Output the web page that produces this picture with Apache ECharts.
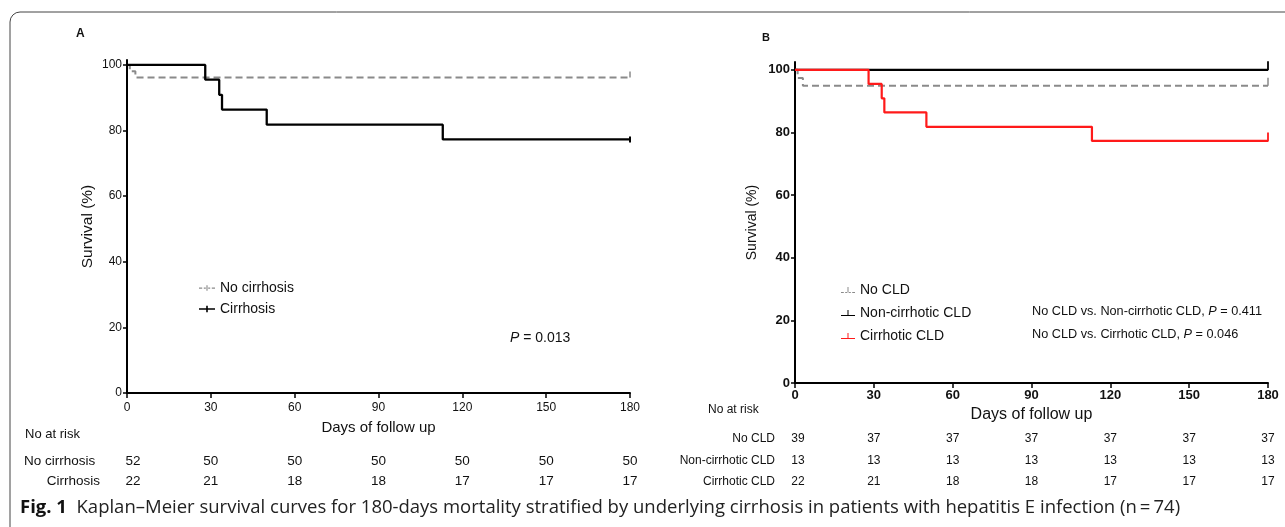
<!DOCTYPE html>
<html>
<head>
<meta charset="utf-8">
<script src="https://cdn.jsdelivr.net/npm/echarts@6/dist/echarts.min.js"></script>
<style>
html,body{margin:0;padding:0;background:#fff;}
#chart{width:1285px;height:527px;}
</style>
</head>
<body>
<div id="chart"></div>
<script>
// ---- data ----
const riskDays = [0, 30, 60, 90, 120, 150, 180];
const yTicks = [0, 20, 40, 60, 80, 100];

// Panel A
const noCirrT = [0, 1, 3, 180];
const noCirrS = [100, 98.1, 96.2, 96.2];
const cirrT = [0, 28, 33, 34, 50, 113, 180];
const cirrS = [100, 95.5, 90.9, 86.4, 81.8, 77.3, 77.3];
const riskNoCirr = [52, 50, 50, 50, 50, 50, 50];
const riskCirr = [22, 21, 18, 18, 17, 17, 17];

// Panel B
const noCldT = [0, 1, 3, 180];
const noCldS = [100, 97.4, 94.9, 94.9];
const nonCirrCldT = [0, 180];
const nonCirrCldS = [100, 100];
const cirrCldT = [0, 28, 33, 34, 50, 113, 180];
const cirrCldS = [100, 95.5, 90.9, 86.4, 81.8, 77.3, 77.3];
const riskNoCld = [39, 37, 37, 37, 37, 37, 37];
const riskNonCirrCld = [13, 13, 13, 13, 13, 13, 13];
const riskCirrCld = [22, 21, 18, 18, 17, 17, 17];

const FONT = '"Liberation Sans", Arial, sans-serif';
const CAP_FONT = '"Open Sans", "Noto Sans", sans-serif';
const zip = (t, s) => t.map((x, i) => [x, s[i]]);

function kmSeries(name, t, s, idx, color, dashed, width, censor) {
  const last = [t[t.length - 1], s[s.length - 1]];
  return {
    name: name, type: 'line', step: 'end', xAxisIndex: idx, yAxisIndex: idx,
    data: zip(t, s), showSymbol: false, symbol: 'none', silent: true,
    lineStyle: { color: color, width: width, type: dashed ? [7, 4] : 'solid' },
    itemStyle: { color: color },
    markPoint: {
      silent: true, symbol: 'rect', symbolSize: censor.size, symbolOffset: censor.offset,
      label: { show: false }, itemStyle: { color: color },
      data: [{ coord: last }]
    }
  };
}

const iconDashTick = 'path://M0,4h4v1.5h-4z M6,4h2.5v1.5h-2.5z M9.3,1h1.4v7h-1.4z M11.5,4h2.5v1.5h-2.5z M16,4h4v1.5h-4z';
const iconPlus = 'path://M0,4h20v2h-20z M9,1h2v8h-2z';
const iconInvT = 'path://M0,7h20v1.5h-20z M9.3,0h1.4v8h-1.4z';
const iconInvTDash = 'path://M0,7h4v1.5h-4z M6,7h2.5v1.5h-2.5z M9.3,0h1.4v8h-1.4z M11.5,7h2.5v1.5h-2.5z M16,7h4v1.5h-4z';

const chart = echarts.init(document.getElementById('chart'), null, { renderer: 'canvas' });

function xAxis(idx, bold, margin, nameGap, nameSize, labelSize) {
  return {
    type: 'value', gridIndex: idx, min: 0, max: 180, interval: 30,
    name: 'Days of follow up', nameLocation: 'middle', nameGap: nameGap,
    nameTextStyle: { color: '#111', fontSize: nameSize, fontFamily: FONT },
    axisLine: { show: true, onZero: false, lineStyle: { color: '#000', width: 2 } },
    axisTick: { show: true, length: 5, lineStyle: { color: '#000', width: 1.5 } },
    axisLabel: { color: '#111', fontSize: labelSize, fontWeight: bold ? 'bold' : 'normal', margin: margin, fontFamily: FONT },
    splitLine: { show: false }
  };
}
function yAxis(idx, max, bold, nameGap, nameSize, labelSize) {
  return {
    type: 'value', gridIndex: idx, min: 0, max: max,
    name: 'Survival (%)', nameLocation: 'middle', nameGap: nameGap,
    nameTextStyle: { color: '#111', fontSize: nameSize, fontFamily: FONT },
    axisLine: { show: true, onZero: false, lineStyle: { color: '#000', width: 2 } },
    axisTick: { show: true, length: 4, customValues: yTicks, lineStyle: { color: '#000', width: 1.5 } },
    axisLabel: { color: '#111', fontSize: labelSize, fontWeight: bold ? 'bold' : 'normal', margin: 5, customValues: yTicks, fontFamily: FONT },
    splitLine: { show: false }
  };
}

const option = {
  animation: false,
  backgroundColor: '#fff',
  textStyle: { fontFamily: FONT },
  grid: [
    { left: 127, right: 655, top: 60, bottom: 134 },
    { left: 795, right: 17, top: 62, bottom: 144 }
  ],
  xAxis: [xAxis(0, false, 9, 27, 15, 12), xAxis(1, true, 6, 22, 16, 13)],
  yAxis: [yAxis(0, 101.5, false, 31, 15.5, 12), yAxis(1, 102.5, true, 36, 14, 13)],
  legend: [
    {
      left: 194, top: 276, orient: 'vertical', itemGap: 7, itemWidth: 16, itemHeight: 8,
      textStyle: { fontSize: 14, color: '#111', fontFamily: FONT },
      data: [
        { name: 'No cirrhosis', icon: iconDashTick },
        { name: 'Cirrhosis', icon: iconPlus }
      ]
    },
    {
      left: 836, top: 278, orient: 'vertical', itemGap: 9, itemWidth: 14, itemHeight: 8,
      textStyle: { fontSize: 14, color: '#111', fontFamily: FONT },
      data: [
        { name: 'No CLD', icon: iconInvTDash },
        { name: 'Non-cirrhotic CLD', icon: iconInvT },
        { name: 'Cirrhotic CLD', icon: iconInvT }
      ]
    }
  ],
  series: [
    kmSeries('No cirrhosis', noCirrT, noCirrS, 0, '#8a8a8a', true, 2, { size: [1.5, 6], offset: [0, -3] }),
    kmSeries('Cirrhosis', cirrT, cirrS, 0, '#000', false, 2.3, { size: [2, 6], offset: [0, 0] }),
    kmSeries('No CLD', noCldT, noCldS, 1, '#8a8a8a', true, 2, { size: [1.5, 8], offset: [0, -4] }),
    kmSeries('Non-cirrhotic CLD', nonCirrCldT, nonCirrCldS, 1, '#000', false, 2.2, { size: [1.8, 9], offset: [0, -4] }),
    kmSeries('Cirrhotic CLD', cirrCldT, cirrCldS, 1, '#ff1a1a', false, 2.2, { size: [1.8, 9], offset: [0, -4] })
  ]
};
chart.setOption(option);

// ---- risk tables and annotations ----
function px(gi, day) { return chart.convertToPixel({ gridIndex: gi }, [day, 0])[0]; }
const g = [];
function txt(x, y, text, o) {
  g.push(Object.assign({ type: 'text', x: x, y: y, silent: true,
    style: Object.assign({ text: text, fill: '#111', font: '13px ' + FONT, textAlign: 'left', textVerticalAlign: 'middle' }, o || {}) }));
}
// border
g.push({ type: 'rect', silent: true, shape: { x: 10, y: 12, width: 1300, height: 600, r: 10 },
  style: { fill: 'none', stroke: '#444', lineWidth: 1 } });

// Panel A
txt(76, 34, 'A', { font: 'bold 12px ' + FONT });
txt(25, 434, 'No at risk');
txt(24, 461, 'No cirrhosis', { font: '13.5px ' + FONT });
txt(100, 481, 'Cirrhosis', { textAlign: 'right', font: '13.5px ' + FONT });
riskDays.forEach((d, i) => {
  const x = px(0, d) + (i === 0 ? 6 : 0);
  txt(x, 461, String(riskNoCirr[i]), { textAlign: 'center', font: '13.5px ' + FONT });
  txt(x, 481, String(riskCirr[i]), { textAlign: 'center', font: '13.5px ' + FONT });
});
g.push({ type: 'text', x: 510, y: 338, silent: true, style: {
  text: '{i|P} = 0.013', textVerticalAlign: 'middle', font: '14px ' + FONT, fill: '#111',
  rich: { i: { fontStyle: 'italic', fontSize: 14, fontFamily: FONT, fill: '#111' } } } });

// Panel B
txt(762, 38, 'B', { font: 'bold 11px ' + FONT });
txt(708, 410, 'No at risk', { font: '12px ' + FONT });
const rowsB = [['No CLD', riskNoCld, 439], ['Non-cirrhotic CLD', riskNonCirrCld, 461], ['Cirrhotic CLD', riskCirrCld, 482]];
rowsB.forEach(r => {
  txt(775, r[2], r[0], { textAlign: 'right', font: '12px ' + FONT });
  riskDays.forEach((d, i) => {
    const x = px(1, d) + (i === 0 ? 3 : 0);
    txt(x, r[2], String(r[1][i]), { textAlign: 'center', font: '12px ' + FONT });
  });
});
g.push({ type: 'text', x: 1032, y: 311, silent: true, style: {
  text: 'No CLD vs. Non-cirrhotic CLD, {i|P} = 0.411', textVerticalAlign: 'middle', font: '12.7px ' + FONT, fill: '#111',
  rich: { i: { fontStyle: 'italic', fontSize: 12.7, fontFamily: FONT, fill: '#111' } } } });
g.push({ type: 'text', x: 1032, y: 334, silent: true, style: {
  text: 'No CLD vs. Cirrhotic CLD, {i|P} = 0.046', textVerticalAlign: 'middle', font: '12.7px ' + FONT, fill: '#111',
  rich: { i: { fontStyle: 'italic', fontSize: 12.7, fontFamily: FONT, fill: '#111' } } } });

// Caption
g.push({ type: 'text', x: 20, y: 508, silent: true, style: {
  text: '{b|Fig. 1}  Kaplan\u2013Meier survival curves for 180-days mortality stratified by underlying cirrhosis in patients with hepatitis E infection (n\u2009=\u200974)',
  textVerticalAlign: 'middle', font: '18.5px ' + CAP_FONT, fill: '#222',
  rich: { b: { fontWeight: 'bold', fontSize: 18.5, fontFamily: CAP_FONT, fill: '#111' } } } });

chart.setOption({ graphic: g });
</script>
</body>
</html>
